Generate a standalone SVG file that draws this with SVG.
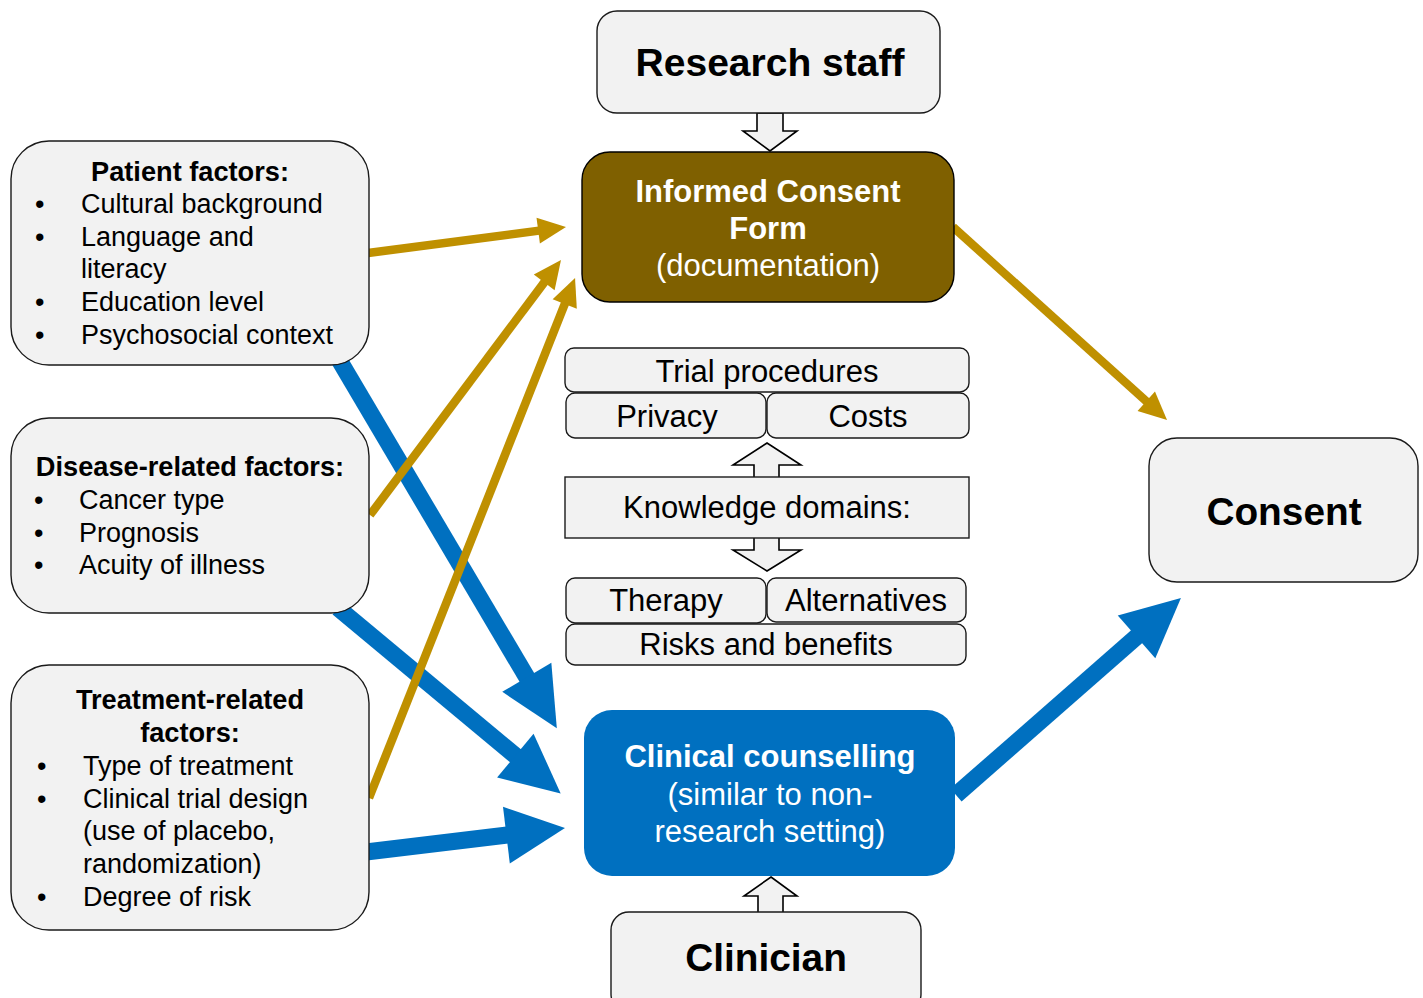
<svg xmlns="http://www.w3.org/2000/svg" width="1423" height="998" viewBox="0 0 1423 998">
<style>
.box{fill:#f2f2f2;stroke:#1a1a1a;stroke-width:1.4}
.blk{fill:#f2f2f2;stroke:#000;stroke-width:1.6}
.t{font-family:"Liberation Sans",Arial,sans-serif;fill:#000}
.b{font-weight:bold}
.w{fill:#fff}
.blue{stroke:#0070c0;stroke-width:17;fill:none}
.gold{stroke:#bf9000;stroke-width:8.5;fill:none}
</style>
<defs>
<marker id="hb" markerUnits="userSpaceOnUse" viewBox="0 -30 60 60" markerWidth="60" markerHeight="60" refX="0" refY="0" orient="auto" overflow="visible">
<path d="M-1,-28.5 L58,0 L-1,28.5 z" fill="#0070c0"/>
</marker>
<marker id="hg" markerUnits="userSpaceOnUse" viewBox="0 -15 30 30" markerWidth="30" markerHeight="30" refX="0" refY="0" orient="auto" overflow="visible">
<path d="M-1,-13 L27,0 L-1,13 z" fill="#bf9000"/>
</marker>
</defs>
<rect width="1423" height="998" fill="#fff"/>

<g id="connectors">
<path class="blue" d="M338,358 L527.3,678.2" marker-end="url(#hb)"/>
<path class="blue" d="M338,608 L516.1,756.3" marker-end="url(#hb)"/>
<path class="blue" d="M366,852 L507.4,835" marker-end="url(#hb)"/>
<path class="blue" d="M956,795 L1137.3,636.2" marker-end="url(#hb)"/>
<path class="gold" d="M368,253 L539.2,230.6" marker-end="url(#hg)"/>
<path class="gold" d="M370,515 L544.8,281.6" marker-end="url(#hg)"/>
<path class="gold" d="M369,798 L565.1,303.1" marker-end="url(#hg)"/>
<path class="gold" d="M953,227 L1147,401.9" marker-end="url(#hg)"/>
<polygon class="blk" points="757,113 783,113 783,131 797,131 770,151 743,131 757,131"/>
<polygon class="blk" points="767,443 801,465 779,465 779,550 801,550 767,571 733,550 754,550 754,465 733,465"/>
<polygon class="blk" points="771,877 797,896 783,896 783,913 758,913 758,896 744,896"/>
</g>

<g id="research-staff">
<rect class="box" x="597" y="11" width="343" height="102" rx="20"/>
<text class="t b" x="770" y="76" font-size="39" text-anchor="middle">Research staff</text>
</g>

<g id="icf">
<rect x="582" y="152" width="372" height="150" rx="28" fill="#7f6000" stroke="#000" stroke-width="1.4"/>
<text class="t b w" x="768" y="202" font-size="31" text-anchor="middle">Informed Consent</text>
<text class="t b w" x="768" y="239" font-size="31" text-anchor="middle">Form</text>
<text class="t w" x="768" y="276" font-size="31" text-anchor="middle">(documentation)</text>
</g>

<g id="trial-procedures">
<rect class="box" x="565" y="348" width="404" height="44" rx="9"/>
<text class="t" x="767" y="382" font-size="31" text-anchor="middle">Trial procedures</text>
</g>
<g id="privacy">
<rect class="box" x="566" y="393" width="200" height="45" rx="9"/>
<text class="t" x="667" y="427" font-size="31" text-anchor="middle">Privacy</text>
</g>
<g id="costs">
<rect class="box" x="767" y="393" width="202" height="45" rx="9"/>
<text class="t" x="868" y="427" font-size="31" text-anchor="middle">Costs</text>
</g>
<g id="knowledge">
<rect class="box" x="565" y="477" width="404" height="61"/>
<text class="t" x="767" y="518" font-size="31" text-anchor="middle">Knowledge domains:</text>
</g>
<g id="therapy">
<rect class="box" x="566" y="578" width="200" height="45" rx="9"/>
<text class="t" x="666" y="611" font-size="31" text-anchor="middle">Therapy</text>
</g>
<g id="alternatives">
<rect class="box" x="767" y="578" width="199" height="44" rx="9"/>
<text class="t" x="866" y="611" font-size="31" text-anchor="middle">Alternatives</text>
</g>
<g id="risks">
<rect class="box" x="566" y="624" width="400" height="41" rx="9"/>
<text class="t" x="766" y="655" font-size="31" text-anchor="middle">Risks and benefits</text>
</g>

<g id="clinical-counselling">
<rect x="584" y="710" width="371" height="166" rx="28" fill="#0070c0"/>
<text class="t b w" x="770" y="767" font-size="31" text-anchor="middle">Clinical counselling</text>
<text class="t w" x="770" y="805" font-size="31" text-anchor="middle">(similar to non-</text>
<text class="t w" x="770" y="842" font-size="31" text-anchor="middle">research setting)</text>
</g>

<g id="clinician">
<rect class="box" x="611" y="912" width="310" height="100" rx="18"/>
<text class="t b" x="766" y="971" font-size="38.8" text-anchor="middle">Clinician</text>
</g>

<g id="consent">
<rect class="box" x="1149" y="438" width="269" height="144" rx="28"/>
<text class="t b" x="1284" y="525" font-size="38.8" text-anchor="middle">Consent</text>
</g>

<g id="patient-factors">
<rect class="box" x="11" y="141" width="358" height="224" rx="38"/>
<text class="t b" x="190" y="181" font-size="27.2" text-anchor="middle">Patient factors:</text>
<text class="t" font-size="27">
<tspan x="35" y="213">•</tspan><tspan x="81" y="213">Cultural background</tspan>
<tspan x="35" y="246">•</tspan><tspan x="81" y="246">Language and</tspan>
<tspan x="81" y="278">literacy</tspan>
<tspan x="35" y="311">•</tspan><tspan x="81" y="311">Education level</tspan>
<tspan x="35" y="344">•</tspan><tspan x="81" y="344">Psychosocial context</tspan>
</text>
</g>

<g id="disease-factors">
<rect class="box" x="11" y="418" width="358" height="195" rx="38"/>
<text class="t b" x="190" y="476" font-size="27.2" text-anchor="middle">Disease-related factors:</text>
<text class="t" font-size="27">
<tspan x="34" y="509">•</tspan><tspan x="79" y="509">Cancer type</tspan>
<tspan x="34" y="542">•</tspan><tspan x="79" y="542">Prognosis</tspan>
<tspan x="34" y="574">•</tspan><tspan x="79" y="574">Acuity of illness</tspan>
</text>
</g>

<g id="treatment-factors">
<rect class="box" x="11" y="665" width="358" height="265" rx="38"/>
<text class="t b" x="190" y="709" font-size="27.2" text-anchor="middle">Treatment-related</text>
<text class="t b" x="190" y="742" font-size="27.2" text-anchor="middle">factors:</text>
<text class="t" font-size="27">
<tspan x="37" y="775">•</tspan><tspan x="83" y="775">Type of treatment</tspan>
<tspan x="37" y="808">•</tspan><tspan x="83" y="808">Clinical trial design</tspan>
<tspan x="83" y="840">(use of placebo,</tspan>
<tspan x="83" y="873">randomization)</tspan>
<tspan x="37" y="906">•</tspan><tspan x="83" y="906">Degree of risk</tspan>
</text>
</g>
</svg>
